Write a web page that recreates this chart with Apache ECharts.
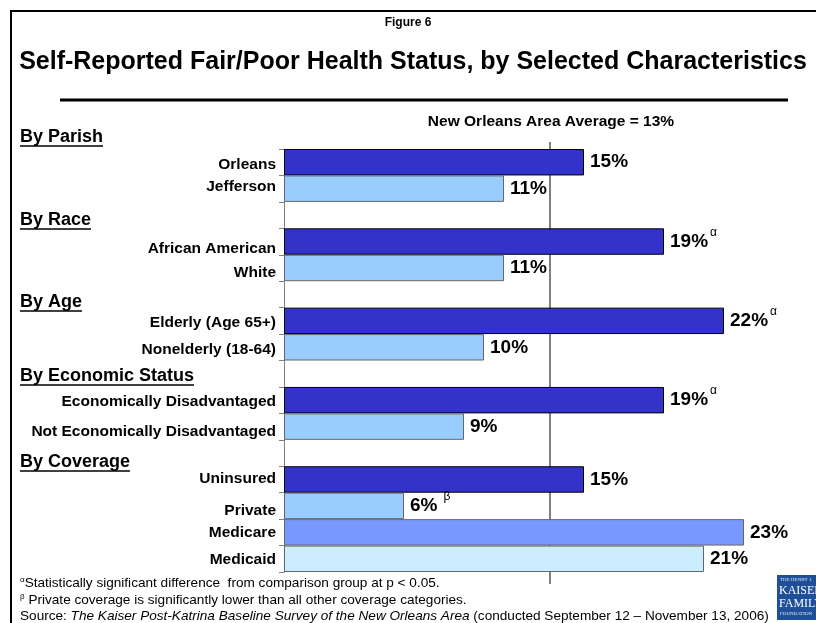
<!DOCTYPE html>
<html><head><meta charset="utf-8">
<script src="https://cdn.jsdelivr.net/npm/echarts@6/dist/echarts.min.js"></script>
<style>html,body{margin:0;padding:0;background:#fff}#c{width:816px;height:623px}</style>
</head><body><div id="c"></div>
<script>
// ---- data ----
const categories = ['Orleans','Jefferson','','African American','White','','Elderly (Age 65+)','Nonelderly (18-64)','','Economically Disadvantaged','Not Economically Disadvantaged','','Uninsured','Private','Medicare','Medicaid'];
const values = [15, 11, null, 19, 11, null, 22, 10, null, 19, 9, null, 15, 6, 23, 21];
const marks = ['', '', '', 'α', '', '', 'α', '', '', 'α', '', '', '', 'β', '', ''];
const barColors = ['#3333CC','#99CCFF',null,'#3333CC','#99CCFF',null,'#3333CC','#99CCFF',null,'#3333CC','#99CCFF',null,'#3333CC','#99CCFF','#7799FF','#CCECFF'];
const groupHeaders = ['By Parish','By Race','By Age','By Economic Status','By Coverage'];
const averageValue = 13.3;
const averageLabel = 'New Orleans Area Average = 13%';
const figureLabel = 'Figure 6';
const titleText = 'Self-Reported Fair/Poor Health Status, by Selected Characteristics';
const footnotes = [
  '{s|α}Statistically significant difference  from comparison group at p < 0.05.',
  '{s|β} Private coverage is significantly lower than all other coverage categories.',
  'Source: {i|The Kaiser Post-Katrina Baseline Survey of the New Orleans Area} (conducted September 12 – November 13, 2006)'
];

// ---- layout ----
const FONT = '"Liberation Sans", Arial, sans-serif';
const headerY = [137, 220, 302, 376, 462];
const footY = [583, 600, 616];
const labelShift = [2, -2, 0, 7, 5, 0, 2, 2, 0, 2, 5, 0, -1, 5, 0, 1];

const chart = echarts.init(document.getElementById('c'), null, {renderer: 'canvas'});

const seriesData = values.map((v, i) => v == null ? null : ({
  value: v,
  itemStyle: {color: barColors[i], borderColor: (barColors[i] === '#3333CC') ? '#000' : '#666', borderWidth: 1}
}));

const labelRich = {};
for (let k = -3; k <= 8; k++) {
  const key = 'd' + (k + 3);
  labelRich[key] = {fontSize: 15.5, fontWeight: 'bold', color: '#000', fontFamily: FONT,
    padding: k >= 0 ? [2 * k, 0, 0, 0] : [0, 0, -2 * k, 0]};
}

chart.setOption({
  animation: false,
  backgroundColor: '#fff',
  grid: {left: 284, top: 149, width: 500, height: 423, containLabel: false},
  xAxis: {type: 'value', min: 0, max: 25, show: false},
  yAxis: {
    type: 'category', data: categories, inverse: true,
    axisLine: {lineStyle: {color: '#808080', width: 1}},
    axisTick: {show: true, length: 5, interval: 0, lineStyle: {color: '#808080'}},
    axisLabel: {interval: 0, margin: 8, color: '#000', fontSize: 15.5, fontWeight: 'bold', fontFamily: FONT,
      formatter: (val, idx) => val ? '{d' + (labelShift[idx] + 3) + '|' + val + '}' : '',
      rich: labelRich}
  },
  series: [{
    type: 'bar', data: seriesData, barCategoryGap: '0%',
    label: {
      show: true, position: 'right', distance: 6,
      formatter: p => {
        const m = marks[p.dataIndex];
        return '{v|' + p.value + '%}' + (m === 'α' ? '{a|α}' : m === 'β' ? '{b|β}' : '');
      },
      rich: {
        v: {fontSize: 19, fontWeight: 'bold', color: '#000', fontFamily: FONT},
        a: {fontSize: 12, color: '#000', fontFamily: FONT, padding: [0, 0, 18, 2]},
        b: {fontSize: 12, color: '#000', fontFamily: FONT, padding: [0, 0, 18, 6]}
      }
    }
  }]
});

const ctx = document.createElement('canvas').getContext('2d');
ctx.font = 'bold 18px ' + FONT;
const avgX = chart.convertToPixel({xAxisIndex: 0}, averageValue);

const elements = [
  {type: 'rect', shape: {x: 11, y: 11, width: 900, height: 700}, style: {fill: null, stroke: '#000', lineWidth: 2}, silent: true},
  {type: 'text', x: 408, y: 23, style: {text: figureLabel, font: 'bold 12px ' + FONT, fill: '#000', align: 'center', verticalAlign: 'middle'}},
  {type: 'text', x: 413, y: 62, style: {text: titleText, font: 'bold 25px ' + FONT, fill: '#000', align: 'center', verticalAlign: 'middle'}},
  {type: 'line', shape: {x1: 60, y1: 100, x2: 788, y2: 100}, style: {stroke: '#000', lineWidth: 3}},
  {type: 'line', shape: {x1: avgX, y1: 142, x2: avgX, y2: 584}, style: {stroke: '#000', lineWidth: 1}},
  {type: 'text', x: avgX + 1, y: 122, style: {text: averageLabel, font: 'bold 15.5px ' + FONT, fill: '#000', align: 'center', verticalAlign: 'middle'}}
];
groupHeaders.forEach((h, i) => {
  const w = ctx.measureText(h).width;
  elements.push({type: 'text', x: 20, y: headerY[i], style: {text: h, font: 'bold 18px ' + FONT, fill: '#000', align: 'left', verticalAlign: 'middle'}});
  elements.push({type: 'line', shape: {x1: 20, y1: headerY[i] + 9, x2: 20 + w, y2: headerY[i] + 9}, style: {stroke: '#000', lineWidth: 1.5}});
});
footnotes.forEach((f, i) => {
  elements.push({type: 'text', x: 20, y: footY[i], style: {
    text: f, fill: '#000', align: 'left', verticalAlign: 'middle', font: '13.6px ' + FONT,
    rich: {
      s: {fontSize: 8, fontFamily: FONT, fill: '#000', padding: [0, 0, 7, 0]},
      i: {fontSize: 13.6, fontStyle: 'italic', fontFamily: FONT, fill: '#000'}
    }
  }});
});
// logo
elements.push({type: 'rect', shape: {x: 777, y: 575, width: 45, height: 45}, style: {fill: '#1F4F98'}});
elements.push({type: 'text', x: 780, y: 580, style: {text: 'THE HENRY J.', font: '5px "Liberation Serif", serif', fill: '#dde6f5', verticalAlign: 'middle'}});
elements.push({type: 'text', x: 779, y: 591, style: {text: 'KAISER', font: '12px "Liberation Serif", serif', fill: '#fff', verticalAlign: 'middle'}});
elements.push({type: 'text', x: 779, y: 604, style: {text: 'FAMILY', font: '12px "Liberation Serif", serif', fill: '#fff', verticalAlign: 'middle'}});
elements.push({type: 'text', x: 780, y: 614, style: {text: 'FOUNDATION', font: '5px "Liberation Serif", serif', fill: '#dde6f5', verticalAlign: 'middle'}});

chart.setOption({graphic: {elements: elements}});
</script>
</body></html>
